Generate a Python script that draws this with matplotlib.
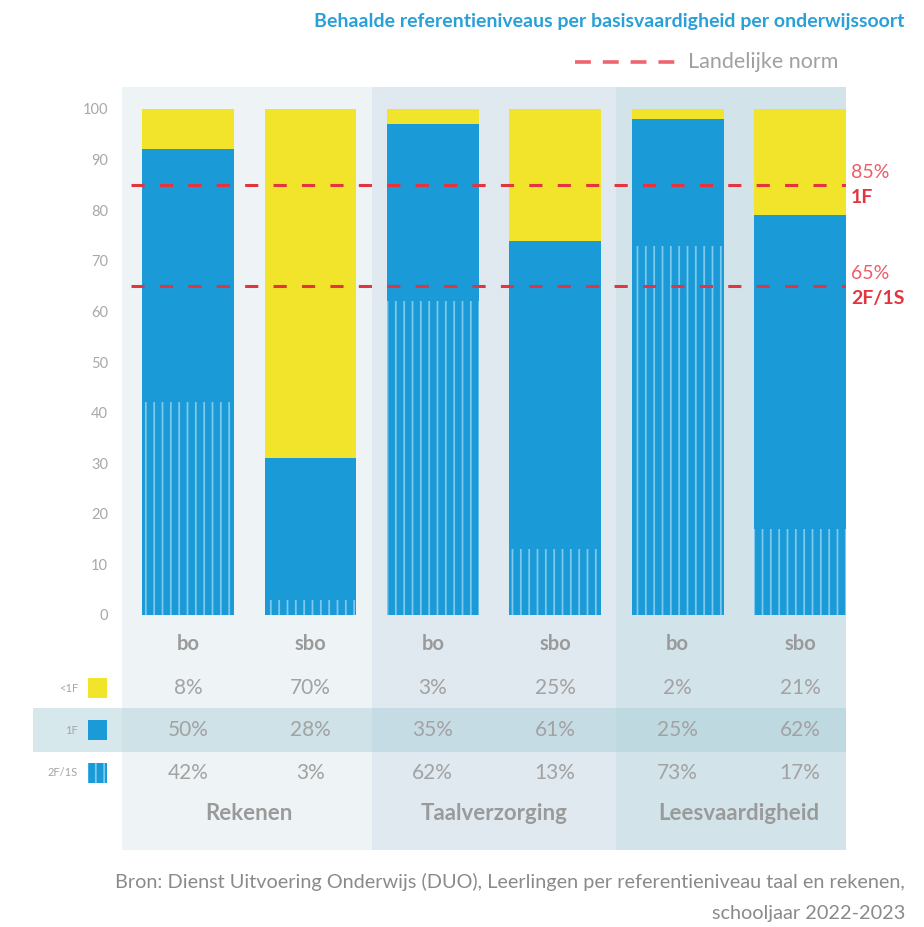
import matplotlib.pyplot as plt
from matplotlib.patches import Rectangle
from matplotlib.lines import Line2D

plt.rcParams['font.family'] = ['Lato', 'DejaVu Sans']
plt.rcParams['hatch.linewidth'] = 1.3

# data
subjects = ['Rekenen', 'Taalverzorging', 'Leesvaardigheid']
school_types = ['bo', 'sbo', 'bo', 'sbo', 'bo', 'sbo']
below_1f = [8, 70, 3, 25, 2, 21]
level_1f = [50, 28, 35, 61, 25, 62]
level_2f = [42, 3, 62, 13, 73, 17]
norm_values = [85, 65]
norm_levels = ['1F', '2F/1S']
level_names = ['<1F', '1F', '2F/1S']

YELLOW = '#f2e32b'
BLUE = '#1a9ad6'
HATCH = '#7cc8ee'
RED = '#e3343f'
GREY = '#a2a2a2'
panel_colors = ['#eef4f6', '#e0e9ef', '#d3e3ea']

W, H = 924, 927
fig = plt.figure(figsize=(W / 100, H / 100), dpi=100)


# pixel -> data helpers (bar centres every 122.4 px, 5.06 px per percent)
def dx(px):
    return (px - 188) / 122.4


def dy(py):
    return (615 - py) / 5.06


ax = fig.add_axes([122 / W, 1 - 850 / H, (846 - 122) / W, (850 - 87) / H])
ax.set_xlim(dx(122), dx(846))
ax.set_ylim(dy(850), dy(87))

# background panels per subject
edges = [dx(122), 1.5, 3.5, dx(846)]
for i in range(len(subjects)):
    ax.axvspan(edges[i], edges[i + 1], color=panel_colors[i], lw=0, zorder=0)

# highlighted 1F row
ax.add_patch(Rectangle((dx(33), dy(752)), dx(846) - dx(33), dy(708) - dy(752),
                       color='#a8cdd8', alpha=0.45, lw=0, clip_on=False, zorder=1))

x = list(range(len(school_types)))
bottom2 = [a + b for a, b in zip(level_2f, level_1f)]
# the rounded shares don't always add up to 100, the yellow part fills the bar
top_part = [100 - b for b in bottom2]
ax.bar(x, level_2f, width=0.75, color=BLUE, edgecolor=HATCH, linewidth=0,
       hatch='||', zorder=2)
ax.bar(x, level_1f, width=0.75, bottom=level_2f, color=BLUE, linewidth=0, zorder=2)
ax.bar(x, top_part, width=0.75, bottom=bottom2, color=YELLOW, linewidth=0, zorder=2)

# norm lines
for v, lvl in zip(norm_values, norm_levels):
    ax.axhline(v, xmin=0.012, xmax=1, color=RED, lw=2.2, dashes=(4.3, 5), zorder=3)
    ax.text(1.007, v + 2.5, f'{v}%', transform=ax.get_yaxis_transform(),
            color='#ee5c68', fontsize=14, va='center', ha='left')
    ax.text(1.007, v - 2.4, lvl, transform=ax.get_yaxis_transform(),
            color=RED, fontsize=14, fontweight='bold', va='center', ha='left')

# table below the bars
for i, st in enumerate(school_types):
    ax.text(i, dy(644), st, ha='center', va='center', fontsize=14.5,
            fontweight='bold', color='#9a9a9a', zorder=4)
rows = [688, 730, 773]
for row, vals in zip(rows, [below_1f, level_1f, level_2f]):
    for i, v in enumerate(vals):
        ax.text(i, dy(row), f'{v}%', ha='center', va='center', fontsize=15,
                color=GREY, zorder=4)
for g, name in enumerate(subjects):
    ax.text(2 * g + 0.5, dy(814), name, ha='center', va='center', fontsize=16,
            fontweight='bold', color='#9a9a9a', zorder=4)

# row legend
sq_h = 20 / 5.06
for row, name, col, hatch in zip(rows, level_names, [YELLOW, BLUE, BLUE], [None, None, '||']):
    ax.add_patch(Rectangle((dx(88), dy(row) - sq_h / 2), dx(107) - dx(88), sq_h,
                           facecolor=col, edgecolor=HATCH, lw=0, hatch=hatch,
                           clip_on=False, zorder=4))
    ax.text(dx(78), dy(row), name, ha='right', va='center', fontsize=8, color='#a5a5a5')

ax.set_xticks([])
ax.set_yticks(range(0, 101, 10))
ax.tick_params(axis='y', length=0, pad=10, labelsize=10.5, labelcolor='#a8a8a8')
for s in ax.spines.values():
    s.set_visible(False)

# title, legend, source
fig.text(905 / W, 1 - 22 / H, 'Behaalde referentieniveaus per basisvaardigheid per onderwijssoort',
         ha='right', va='center', fontsize=14, fontweight='bold', color='#2aa0d8')
fig.add_artist(Line2D([575 / W, 675 / W], [1 - 62 / H, 1 - 62 / H], transform=fig.transFigure,
                      color='#ee6470', lw=2.6, dashes=(4.4, 3.3)))
fig.text(688 / W, 1 - 62 / H, 'Landelijke norm', ha='left', va='center', fontsize=15.5,
         color='#a0a0a0')
fig.text(905 / W, 1 - 882 / H,
         'Bron: Dienst Uitvoering Onderwijs (DUO), Leerlingen per referentieniveau taal en rekenen,',
         ha='right', va='center', fontsize=14.3, color='#8a8a8a')
fig.text(905 / W, 1 - 913 / H, 'schooljaar 2022-2023', ha='right', va='center', fontsize=14.3,
         color='#8a8a8a')

fig.savefig('out.png', dpi=100)
